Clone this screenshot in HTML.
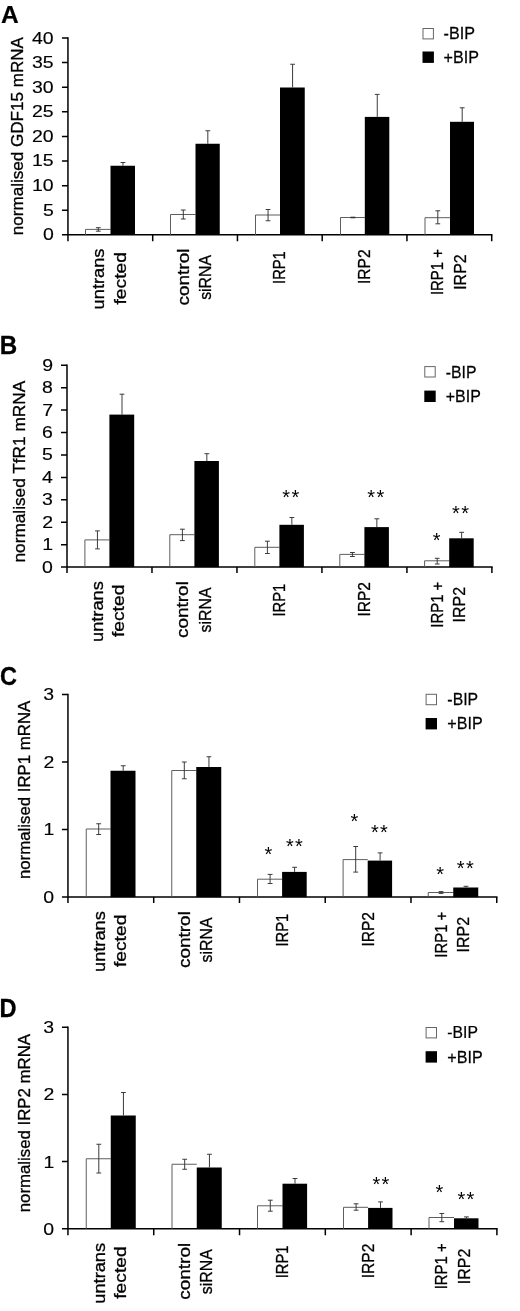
<!DOCTYPE html>
<html lang="en"><head><meta charset="utf-8"><title>Figure</title>
<style>
html,body{margin:0;padding:0;background:#fff;}
svg{display:block;}
text{font-family:'Liberation Sans', sans-serif;fill:#000;}
</style></head>
<body>
<svg width="520" height="1311" viewBox="0 0 520 1311">
<defs><filter id="soft" x="0" y="0" width="520" height="1311" filterUnits="userSpaceOnUse"><feGaussianBlur stdDeviation="0.35"/></filter></defs>
<rect width="520" height="1311" fill="#fff"/>
<g filter="url(#soft)">
<path d="M67.95,37.25 V241.15" stroke="#000" stroke-width="1.5" fill="none"/>
<path d="M61.95,234.85 H492.45" stroke="#000" stroke-width="1.5" fill="none"/>
<path d="M61.95,210.24 H67.95M61.95,185.64 H67.95M61.95,161.03 H67.95M61.95,136.43 H67.95M61.95,111.82 H67.95M61.95,87.21 H67.95M61.95,62.61 H67.95M61.95,38.00 H67.95M152.70,234.85 V241.15M237.45,234.85 V241.15M322.20,234.85 V241.15M406.95,234.85 V241.15M491.70,234.85 V241.15" stroke="#000" stroke-width="1.5" fill="none"/>
<text transform="translate(42.88,240.37) scale(1.1450,1)" font-size="17" stroke="#000" stroke-width="0.15">0</text>
<text transform="translate(42.88,215.67) scale(1.1450,1)" font-size="17" stroke="#000" stroke-width="0.15">5</text>
<text transform="translate(32.05,191.15) scale(1.1450,1)" font-size="17" stroke="#000" stroke-width="0.15">10</text>
<text transform="translate(32.05,166.46) scale(1.1450,1)" font-size="17" stroke="#000" stroke-width="0.15">15</text>
<text transform="translate(32.05,141.94) scale(1.1450,1)" font-size="17" stroke="#000" stroke-width="0.15">20</text>
<text transform="translate(32.05,117.33) scale(1.1450,1)" font-size="17" stroke="#000" stroke-width="0.15">25</text>
<text transform="translate(32.05,92.73) scale(1.1450,1)" font-size="17" stroke="#000" stroke-width="0.15">30</text>
<text transform="translate(32.05,68.12) scale(1.1450,1)" font-size="17" stroke="#000" stroke-width="0.15">35</text>
<text transform="translate(32.05,43.51) scale(1.1450,1)" font-size="17" stroke="#000" stroke-width="0.15">40</text>
<path d="M85.50,234.85 V229.40 H110.50" stroke="#555" stroke-width="0.95" fill="none"/>
<rect x="110.50" y="165.75" width="24.50" height="69.10" fill="#000"/>
<path d="M98.30,227.70 V231.20 M95.90,227.70 H100.70 M95.90,231.20 H100.70" stroke="#333" stroke-width="0.95" fill="none"/>
<path d="M122.95,162.50 V165.75 M120.55,162.50 H125.35" stroke="#333" stroke-width="0.95" fill="none"/>
<path d="M170.50,234.85 V214.50 H195.50" stroke="#555" stroke-width="0.95" fill="none"/>
<rect x="195.50" y="143.75" width="24.25" height="91.10" fill="#000"/>
<path d="M183.30,210.00 V219.00 M180.90,210.00 H185.70 M180.90,219.00 H185.70" stroke="#333" stroke-width="0.95" fill="none"/>
<path d="M207.82,130.75 V143.75 M205.42,130.75 H210.22" stroke="#333" stroke-width="0.95" fill="none"/>
<path d="M255.50,234.85 V215.00 H280.00" stroke="#555" stroke-width="0.95" fill="none"/>
<rect x="280.00" y="87.50" width="24.75" height="147.35" fill="#000"/>
<path d="M268.05,209.50 V220.75 M265.65,209.50 H270.45 M265.65,220.75 H270.45" stroke="#333" stroke-width="0.95" fill="none"/>
<path d="M292.57,64.25 V87.50 M290.18,64.25 H294.97" stroke="#333" stroke-width="0.95" fill="none"/>
<path d="M340.50,234.85 V217.50 H364.80" stroke="#555" stroke-width="0.95" fill="none"/>
<rect x="364.80" y="116.90" width="24.50" height="117.95" fill="#000"/>
<path d="M352.95,217.20 V217.80 M350.55,217.20 H355.35 M350.55,217.80 H355.35" stroke="#333" stroke-width="0.95" fill="none"/>
<path d="M377.25,94.40 V116.90 M374.85,94.40 H379.65" stroke="#333" stroke-width="0.95" fill="none"/>
<path d="M425.00,234.85 V217.70 H450.00" stroke="#555" stroke-width="0.95" fill="none"/>
<rect x="450.00" y="121.80" width="24.00" height="113.05" fill="#000"/>
<path d="M437.80,210.80 V223.80 M435.40,210.80 H440.20 M435.40,223.80 H440.20" stroke="#333" stroke-width="0.95" fill="none"/>
<path d="M462.20,107.80 V121.80 M459.80,107.80 H464.60" stroke="#333" stroke-width="0.95" fill="none"/>
<text transform="translate(22.80,235.22) rotate(-90) scale(0.9925,1.0000)" font-size="17.2" stroke="#000" stroke-width="0.32">normalised GDF15 mRNA</text>
<text transform="translate(103.90,309.39) rotate(-90) scale(1.0605,1.0000)" font-size="17.2" stroke="#000" stroke-width="0.32">untrans</text>
<text transform="translate(126.10,304.49) rotate(-90) scale(1.1199,1.0000)" font-size="17.2" stroke="#000" stroke-width="0.32">fected</text>
<text transform="translate(188.70,305.46) rotate(-90) scale(1.1029,1.0000)" font-size="17.2" stroke="#000" stroke-width="0.32">control</text>
<text transform="translate(211.30,299.87) rotate(-90) scale(0.9227,1.0000)" font-size="17.2" stroke="#000" stroke-width="0.32">siRNA</text>
<text transform="translate(285.00,283.92) rotate(-90) scale(0.8525,1.0000)" font-size="17.2" stroke="#000" stroke-width="0.32">IRP1</text>
<text transform="translate(369.90,284.00) rotate(-90) scale(0.9054,1.0000)" font-size="17.2" stroke="#000" stroke-width="0.32">IRP2</text>
<text transform="translate(443.10,295.04) rotate(-90) scale(0.8669,1.0000)" font-size="17.2" stroke="#000" stroke-width="0.32">IRP1 +</text>
<text transform="translate(466.10,289.84) rotate(-90) scale(0.9305,1.0000)" font-size="17.2" stroke="#000" stroke-width="0.32">IRP2</text>
<rect x="423.00" y="28.50" width="10.40" height="10.40" fill="#fff" stroke="#666" stroke-width="1"/>
<rect x="422.50" y="51.50" width="11.40" height="11.40" fill="#000"/>
<text transform="translate(443.55,39.40) scale(0.9388,1.0000)" font-size="17.2" fill="#000" stroke="#000" stroke-width="0.25">-BIP</text>
<text transform="translate(443.56,62.90) scale(0.9374,1.0000)" font-size="17.2" fill="#000" stroke="#000" stroke-width="0.25">+BIP</text>
<text transform="translate(0.91,23.00) scale(0.9983,1.0000)" font-size="24.6" font-weight="bold" fill="#000" stroke="#000" stroke-width="0.2">A</text>
<path d="M67.00,364.50 V573.10" stroke="#000" stroke-width="1.5" fill="none"/>
<path d="M61.00,567.10 H492.65" stroke="#000" stroke-width="1.5" fill="none"/>
<path d="M61.00,544.67 H67.00M61.00,522.24 H67.00M61.00,499.82 H67.00M61.00,477.39 H67.00M61.00,454.96 H67.00M61.00,432.53 H67.00M61.00,410.11 H67.00M61.00,387.68 H67.00M61.00,365.25 H67.00M151.98,567.10 V573.10M236.96,567.10 V573.10M321.94,567.10 V573.10M406.92,567.10 V573.10M491.90,567.10 V573.10" stroke="#000" stroke-width="1.5" fill="none"/>
<text transform="translate(42.08,572.62) scale(1.1450,1)" font-size="17" stroke="#000" stroke-width="0.15">0</text>
<text transform="translate(42.27,550.19) scale(1.1450,1)" font-size="17" stroke="#000" stroke-width="0.15">1</text>
<text transform="translate(42.27,527.84) scale(1.1450,1)" font-size="17" stroke="#000" stroke-width="0.15">2</text>
<text transform="translate(42.08,505.33) scale(1.1450,1)" font-size="17" stroke="#000" stroke-width="0.15">3</text>
<text transform="translate(41.88,482.99) scale(1.1450,1)" font-size="17" stroke="#000" stroke-width="0.15">4</text>
<text transform="translate(42.08,460.39) scale(1.1450,1)" font-size="17" stroke="#000" stroke-width="0.15">5</text>
<text transform="translate(42.08,438.05) scale(1.1450,1)" font-size="17" stroke="#000" stroke-width="0.15">6</text>
<text transform="translate(42.27,415.71) scale(1.1450,1)" font-size="17" stroke="#000" stroke-width="0.15">7</text>
<text transform="translate(42.08,393.19) scale(1.1450,1)" font-size="17" stroke="#000" stroke-width="0.15">8</text>
<text transform="translate(42.27,370.76) scale(1.1450,1)" font-size="17" stroke="#000" stroke-width="0.15">9</text>
<path d="M84.90,567.10 V539.90 H109.40" stroke="#555" stroke-width="0.95" fill="none"/>
<rect x="109.40" y="414.60" width="24.80" height="152.50" fill="#000"/>
<path d="M97.45,530.90 V548.90 M95.05,530.90 H99.85 M95.05,548.90 H99.85" stroke="#333" stroke-width="0.95" fill="none"/>
<path d="M122.00,394.20 V414.60 M119.60,394.20 H124.40" stroke="#333" stroke-width="0.95" fill="none"/>
<path d="M169.80,567.10 V534.70 H194.40" stroke="#555" stroke-width="0.95" fill="none"/>
<rect x="194.40" y="461.00" width="24.50" height="106.10" fill="#000"/>
<path d="M182.40,529.20 V540.60 M180.00,529.20 H184.80 M180.00,540.60 H184.80" stroke="#333" stroke-width="0.95" fill="none"/>
<path d="M206.85,453.70 V461.00 M204.45,453.70 H209.25" stroke="#333" stroke-width="0.95" fill="none"/>
<path d="M254.80,567.10 V547.30 H279.40" stroke="#555" stroke-width="0.95" fill="none"/>
<rect x="279.40" y="524.80" width="24.50" height="42.30" fill="#000"/>
<path d="M267.40,541.20 V553.50 M265.00,541.20 H269.80 M265.00,553.50 H269.80" stroke="#333" stroke-width="0.95" fill="none"/>
<path d="M291.85,517.50 V524.80 M289.45,517.50 H294.25" stroke="#333" stroke-width="0.95" fill="none"/>
<path d="M339.80,567.10 V554.40 H364.40" stroke="#555" stroke-width="0.95" fill="none"/>
<rect x="364.40" y="527.10" width="24.50" height="40.00" fill="#000"/>
<path d="M352.40,552.50 V556.50 M350.00,552.50 H354.80 M350.00,556.50 H354.80" stroke="#333" stroke-width="0.95" fill="none"/>
<path d="M376.85,518.80 V527.10 M374.45,518.80 H379.25" stroke="#333" stroke-width="0.95" fill="none"/>
<path d="M424.60,567.10 V560.80 H449.20" stroke="#555" stroke-width="0.95" fill="none"/>
<rect x="449.20" y="538.30" width="24.50" height="28.80" fill="#000"/>
<path d="M437.20,558.30 V564.00 M434.80,558.30 H439.60 M434.80,564.00 H439.60" stroke="#333" stroke-width="0.95" fill="none"/>
<path d="M461.65,532.30 V538.30 M459.25,532.30 H464.05" stroke="#333" stroke-width="0.95" fill="none"/>
<text transform="translate(24.60,562.53) rotate(-90) scale(1.0027,1.0000)" font-size="17.2" stroke="#000" stroke-width="0.32">normalised TfR1 mRNA</text>
<text transform="translate(103.49,641.99) rotate(-90) scale(1.0605,1.0000)" font-size="17.2" stroke="#000" stroke-width="0.32">untrans</text>
<text transform="translate(124.49,637.09) rotate(-90) scale(1.1199,1.0000)" font-size="17.2" stroke="#000" stroke-width="0.32">fected</text>
<text transform="translate(188.47,638.06) rotate(-90) scale(1.1029,1.0000)" font-size="17.2" stroke="#000" stroke-width="0.32">control</text>
<text transform="translate(210.67,632.47) rotate(-90) scale(0.9227,1.0000)" font-size="17.2" stroke="#000" stroke-width="0.32">siRNA</text>
<text transform="translate(284.95,616.52) rotate(-90) scale(0.8525,1.0000)" font-size="17.2" stroke="#000" stroke-width="0.32">IRP1</text>
<text transform="translate(370.03,616.60) rotate(-90) scale(0.9054,1.0000)" font-size="17.2" stroke="#000" stroke-width="0.32">IRP2</text>
<text transform="translate(442.71,627.64) rotate(-90) scale(0.8669,1.0000)" font-size="17.2" stroke="#000" stroke-width="0.32">IRP1 +</text>
<text transform="translate(465.11,622.44) rotate(-90) scale(0.9305,1.0000)" font-size="17.2" stroke="#000" stroke-width="0.32">IRP2</text>
<rect x="424.80" y="366.60" width="10.40" height="10.40" fill="#fff" stroke="#666" stroke-width="1"/>
<rect x="424.30" y="390.60" width="11.40" height="11.40" fill="#000"/>
<text transform="translate(445.77,377.50) scale(0.9201,1.0000)" font-size="17.2" fill="#000" stroke="#000" stroke-width="0.25">-BIP</text>
<text transform="translate(445.76,402.00) scale(0.9291,1.0000)" font-size="17.2" fill="#000" stroke="#000" stroke-width="0.25">+BIP</text>
<text transform="translate(-0.35,354.10) scale(0.9677,1.0000)" font-size="25.0" font-weight="bold" fill="#000" stroke="#000" stroke-width="0.3">B</text>
<text transform="translate(282.35,504.01) scale(1.0000,0.9861)" font-size="20" letter-spacing="1.317">**</text>
<text transform="translate(367.35,504.01) scale(1.0000,0.9861)" font-size="20" letter-spacing="1.317">**</text>
<text transform="translate(452.05,520.31) scale(1.0000,0.9861)" font-size="20" letter-spacing="1.317">**</text>
<text transform="translate(432.70,546.62) scale(1.0000,0.9722)" font-size="20">*</text>
<path d="M67.95,693.85 V902.90" stroke="#000" stroke-width="1.5" fill="none"/>
<path d="M61.95,897.10 H497.50" stroke="#000" stroke-width="1.5" fill="none"/>
<path d="M61.95,829.60 H67.95M61.95,762.10 H67.95M61.95,694.60 H67.95M153.71,897.10 V902.90M239.47,897.10 V902.90M325.23,897.10 V902.90M410.99,897.10 V902.90M496.75,897.10 V902.90" stroke="#000" stroke-width="1.5" fill="none"/>
<text transform="translate(43.28,902.62) scale(1.1450,1)" font-size="17" stroke="#000" stroke-width="0.15">0</text>
<text transform="translate(43.47,835.12) scale(1.1450,1)" font-size="17" stroke="#000" stroke-width="0.15">1</text>
<text transform="translate(43.47,767.70) scale(1.1450,1)" font-size="17" stroke="#000" stroke-width="0.15">2</text>
<text transform="translate(43.28,700.12) scale(1.1450,1)" font-size="17" stroke="#000" stroke-width="0.15">3</text>
<path d="M86.25,897.10 V829.00 H110.50" stroke="#555" stroke-width="0.95" fill="none"/>
<rect x="110.50" y="770.75" width="25.00" height="126.35" fill="#000"/>
<path d="M98.67,823.75 V834.50 M96.27,823.75 H101.08 M96.27,834.50 H101.08" stroke="#333" stroke-width="0.95" fill="none"/>
<path d="M123.20,765.75 V770.75 M120.80,765.75 H125.60" stroke="#333" stroke-width="0.95" fill="none"/>
<path d="M171.75,897.10 V770.50 H196.25" stroke="#555" stroke-width="0.95" fill="none"/>
<rect x="196.25" y="767.00" width="25.00" height="130.10" fill="#000"/>
<path d="M184.30,762.00 V778.75 M181.90,762.00 H186.70 M181.90,778.75 H186.70" stroke="#333" stroke-width="0.95" fill="none"/>
<path d="M208.95,756.75 V767.00 M206.55,756.75 H211.35" stroke="#333" stroke-width="0.95" fill="none"/>
<path d="M257.50,897.10 V879.20 H282.10" stroke="#555" stroke-width="0.95" fill="none"/>
<rect x="282.10" y="871.90" width="24.60" height="25.20" fill="#000"/>
<path d="M270.10,874.40 V883.50 M267.70,874.40 H272.50 M267.70,883.50 H272.50" stroke="#333" stroke-width="0.95" fill="none"/>
<path d="M294.60,867.30 V871.90 M292.20,867.30 H297.00" stroke="#333" stroke-width="0.95" fill="none"/>
<path d="M343.10,897.10 V859.60 H367.70" stroke="#555" stroke-width="0.95" fill="none"/>
<rect x="367.70" y="860.60" width="24.40" height="36.50" fill="#000"/>
<path d="M355.70,846.50 V872.10 M353.30,846.50 H358.10 M353.30,872.10 H358.10" stroke="#333" stroke-width="0.95" fill="none"/>
<path d="M380.10,852.90 V860.60 M377.70,852.90 H382.50" stroke="#333" stroke-width="0.95" fill="none"/>
<path d="M428.25,897.10 V892.50 H453.25" stroke="#555" stroke-width="0.95" fill="none"/>
<rect x="453.25" y="887.50" width="25.00" height="9.60" fill="#000"/>
<path d="M441.05,891.60 V893.40 M438.65,891.60 H443.45 M438.65,893.40 H443.45" stroke="#333" stroke-width="0.95" fill="none"/>
<path d="M465.95,886.30 V887.50 M463.55,886.30 H468.35" stroke="#333" stroke-width="0.95" fill="none"/>
<text transform="translate(30.25,879.11) rotate(-90) scale(0.9775,1.0000)" font-size="17.2" stroke="#000" stroke-width="0.32">normalised IRP1 mRNA</text>
<text transform="translate(104.65,971.99) rotate(-90) scale(1.0605,1.0000)" font-size="17.2" stroke="#000" stroke-width="0.32">untrans</text>
<text transform="translate(125.65,967.09) rotate(-90) scale(1.1199,1.0000)" font-size="17.2" stroke="#000" stroke-width="0.32">fected</text>
<text transform="translate(190.45,968.06) rotate(-90) scale(1.1029,1.0000)" font-size="17.2" stroke="#000" stroke-width="0.32">control</text>
<text transform="translate(212.25,962.47) rotate(-90) scale(0.9227,1.0000)" font-size="17.2" stroke="#000" stroke-width="0.32">siRNA</text>
<text transform="translate(287.75,946.52) rotate(-90) scale(0.8525,1.0000)" font-size="17.2" stroke="#000" stroke-width="0.32">IRP1</text>
<text transform="translate(373.65,946.60) rotate(-90) scale(0.9054,1.0000)" font-size="17.2" stroke="#000" stroke-width="0.32">IRP2</text>
<text transform="translate(447.05,957.64) rotate(-90) scale(0.8669,1.0000)" font-size="17.2" stroke="#000" stroke-width="0.32">IRP1 +</text>
<text transform="translate(469.15,952.44) rotate(-90) scale(0.9305,1.0000)" font-size="17.2" stroke="#000" stroke-width="0.32">IRP2</text>
<rect x="426.10" y="694.30" width="10.40" height="10.40" fill="#fff" stroke="#666" stroke-width="1"/>
<rect x="425.60" y="718.00" width="11.40" height="11.40" fill="#000"/>
<text transform="translate(447.37,705.20) scale(0.9201,1.0000)" font-size="17.2" fill="#000" stroke="#000" stroke-width="0.25">-BIP</text>
<text transform="translate(447.36,729.40) scale(0.9374,1.0000)" font-size="17.2" fill="#000" stroke="#000" stroke-width="0.25">+BIP</text>
<text transform="translate(0.06,684.50) scale(0.9319,1.0000)" font-size="25.2" font-weight="bold" fill="#000" stroke="#000" stroke-width="0.3">C</text>
<text transform="translate(264.60,860.51) scale(1.0000,0.9861)" font-size="20">*</text>
<text transform="translate(285.95,853.41) scale(1.0000,0.9861)" font-size="20" letter-spacing="1.317">**</text>
<text transform="translate(350.50,827.52) scale(1.0000,0.9722)" font-size="20">*</text>
<text transform="translate(370.95,839.32) scale(1.0000,0.9722)" font-size="20" letter-spacing="1.317">**</text>
<text transform="translate(436.20,880.51) scale(1.0000,0.9792)" font-size="20">*</text>
<text transform="translate(456.80,875.01) scale(1.0000,0.9792)" font-size="20" letter-spacing="1.317">**</text>
<path d="M67.95,1026.45 V1235.20" stroke="#000" stroke-width="1.5" fill="none"/>
<path d="M61.95,1228.80 H497.65" stroke="#000" stroke-width="1.5" fill="none"/>
<path d="M61.95,1161.60 H67.95M61.95,1094.40 H67.95M61.95,1027.20 H67.95M153.74,1228.80 V1235.20M239.53,1228.80 V1235.20M325.32,1228.80 V1235.20M411.11,1228.80 V1235.20M496.90,1228.80 V1235.20" stroke="#000" stroke-width="1.5" fill="none"/>
<text transform="translate(43.28,1234.76) scale(1.1450,1)" font-size="17" stroke="#000" stroke-width="0.15">0</text>
<text transform="translate(43.47,1167.56) scale(1.1450,1)" font-size="17" stroke="#000" stroke-width="0.15">1</text>
<text transform="translate(43.47,1100.45) scale(1.1450,1)" font-size="17" stroke="#000" stroke-width="0.15">2</text>
<text transform="translate(43.28,1033.16) scale(1.1450,1)" font-size="17" stroke="#000" stroke-width="0.15">3</text>
<path d="M86.25,1228.80 V1158.75 H110.75" stroke="#555" stroke-width="0.95" fill="none"/>
<rect x="110.75" y="1115.50" width="25.00" height="113.30" fill="#000"/>
<path d="M98.80,1144.25 V1173.00 M96.40,1144.25 H101.20 M96.40,1173.00 H101.20" stroke="#333" stroke-width="0.95" fill="none"/>
<path d="M123.45,1092.50 V1115.50 M121.05,1092.50 H125.85" stroke="#333" stroke-width="0.95" fill="none"/>
<path d="M172.00,1228.80 V1164.25 H196.75" stroke="#555" stroke-width="0.95" fill="none"/>
<rect x="196.75" y="1167.50" width="25.00" height="61.30" fill="#000"/>
<path d="M184.68,1159.25 V1169.25 M182.28,1159.25 H187.08 M182.28,1169.25 H187.08" stroke="#333" stroke-width="0.95" fill="none"/>
<path d="M209.45,1154.25 V1167.50 M207.05,1154.25 H211.85" stroke="#333" stroke-width="0.95" fill="none"/>
<path d="M257.50,1228.80 V1205.80 H282.50" stroke="#555" stroke-width="0.95" fill="none"/>
<rect x="282.50" y="1183.70" width="24.60" height="45.10" fill="#000"/>
<path d="M270.30,1200.20 V1211.20 M267.90,1200.20 H272.70 M267.90,1211.20 H272.70" stroke="#333" stroke-width="0.95" fill="none"/>
<path d="M295.00,1178.50 V1183.70 M292.60,1178.50 H297.40" stroke="#333" stroke-width="0.95" fill="none"/>
<path d="M343.50,1228.80 V1207.30 H368.10" stroke="#555" stroke-width="0.95" fill="none"/>
<rect x="368.10" y="1207.90" width="24.40" height="20.90" fill="#000"/>
<path d="M356.10,1203.80 V1210.20 M353.70,1203.80 H358.50 M353.70,1210.20 H358.50" stroke="#333" stroke-width="0.95" fill="none"/>
<path d="M380.50,1201.90 V1207.90 M378.10,1201.90 H382.90" stroke="#333" stroke-width="0.95" fill="none"/>
<path d="M429.00,1228.80 V1217.50 H454.00" stroke="#555" stroke-width="0.95" fill="none"/>
<rect x="454.00" y="1218.30" width="24.50" height="10.50" fill="#000"/>
<path d="M441.80,1213.50 V1221.70 M439.40,1213.50 H444.20 M439.40,1221.70 H444.20" stroke="#333" stroke-width="0.95" fill="none"/>
<path d="M466.45,1216.90 V1218.30 M464.05,1216.90 H468.85" stroke="#333" stroke-width="0.95" fill="none"/>
<text transform="translate(30.25,1212.31) rotate(-90) scale(0.9770,1.0000)" font-size="17.2" stroke="#000" stroke-width="0.32">normalised IRP2 mRNA</text>
<text transform="translate(104.62,1303.69) rotate(-90) scale(1.0605,1.0000)" font-size="17.2" stroke="#000" stroke-width="0.32">untrans</text>
<text transform="translate(125.62,1298.79) rotate(-90) scale(1.1199,1.0000)" font-size="17.2" stroke="#000" stroke-width="0.32">fected</text>
<text transform="translate(190.46,1299.76) rotate(-90) scale(1.1029,1.0000)" font-size="17.2" stroke="#000" stroke-width="0.32">control</text>
<text transform="translate(212.16,1294.17) rotate(-90) scale(0.9227,1.0000)" font-size="17.2" stroke="#000" stroke-width="0.32">siRNA</text>
<text transform="translate(287.80,1278.22) rotate(-90) scale(0.8525,1.0000)" font-size="17.2" stroke="#000" stroke-width="0.32">IRP1</text>
<text transform="translate(373.74,1278.30) rotate(-90) scale(0.9054,1.0000)" font-size="17.2" stroke="#000" stroke-width="0.32">IRP2</text>
<text transform="translate(447.48,1289.34) rotate(-90) scale(0.8669,1.0000)" font-size="17.2" stroke="#000" stroke-width="0.32">IRP1 +</text>
<text transform="translate(469.58,1284.14) rotate(-90) scale(0.9305,1.0000)" font-size="17.2" stroke="#000" stroke-width="0.32">IRP2</text>
<rect x="426.10" y="1027.50" width="10.40" height="10.40" fill="#fff" stroke="#666" stroke-width="1"/>
<rect x="425.60" y="1051.20" width="11.40" height="11.40" fill="#000"/>
<text transform="translate(447.37,1038.40) scale(0.9138,1.0000)" font-size="17.2" fill="#000" stroke="#000" stroke-width="0.25">-BIP</text>
<text transform="translate(447.36,1062.60) scale(0.9374,1.0000)" font-size="17.2" fill="#000" stroke="#000" stroke-width="0.25">+BIP</text>
<text transform="translate(-0.52,1016.60) scale(0.9203,1.0000)" font-size="25.7" font-weight="bold" fill="#000" stroke="#000" stroke-width="0.3">D</text>
<text transform="translate(372.45,1191.41) scale(1.0000,0.9861)" font-size="20" letter-spacing="1.317">**</text>
<text transform="translate(435.45,1199.42) scale(1.0000,0.9722)" font-size="20">*</text>
<text transform="translate(457.45,1206.21) scale(1.0000,0.9861)" font-size="20" letter-spacing="1.317">**</text>
</g>
</svg>
</body></html>
